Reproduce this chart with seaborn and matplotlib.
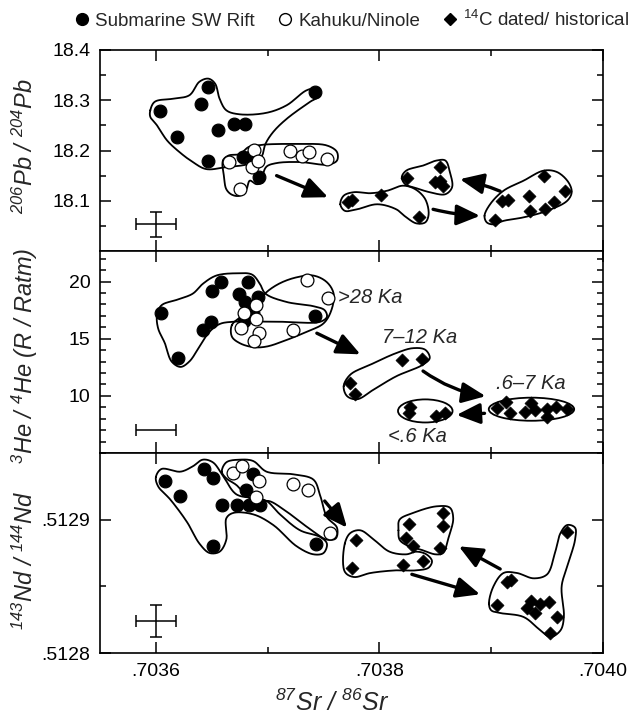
import numpy as np
import pandas as pd
import seaborn as sns
import matplotlib
matplotlib.use("Agg")
import matplotlib.pyplot as plt
from matplotlib.ticker import FixedLocator, FixedFormatter
from matplotlib.patches import Ellipse
from matplotlib.lines import Line2D
from matplotlib import font_manager

# ---------------------------------------------------------------- data
# 206Pb/204Pb panel
pb_sw_sr = [0.703604, 0.703619, 0.703640, 0.703647, 0.703656, 0.703647,
            0.703670, 0.703680, 0.703678, 0.703684, 0.703692, 0.703742]
pb_sw = [18.278, 18.227, 18.292, 18.327, 18.241, 18.180,
         18.252, 18.252, 18.188, 18.188, 18.148, 18.317]
pb_kn_sr = [0.703665, 0.703675, 0.703688, 0.703686, 0.703691,
            0.703720, 0.703731, 0.703737, 0.703753]
pb_kn = [18.177, 18.123, 18.201, 18.168, 18.180, 18.200, 18.190, 18.198, 18.183]
pb_c14_sr = [0.703772, 0.703775, 0.703801, 0.703835, 0.703825, 0.703854,
             0.703854, 0.703857, 0.703850, 0.703903, 0.703910, 0.703915,
             0.703934, 0.703935, 0.703948, 0.703947, 0.703956, 0.703966]
pb_c14 = [18.097, 18.101, 18.111, 18.068, 18.145, 18.167, 18.140, 18.130, 18.137,
          18.061, 18.100, 18.101, 18.110, 18.080, 18.083, 18.150, 18.098, 18.119]

# 3He/4He panel
he_sw_sr = [0.703605, 0.703620, 0.703642, 0.703649, 0.703650, 0.703658, 0.703682,
            0.703674, 0.703680, 0.703691, 0.703687, 0.703679, 0.703742]
he_sw = [17.22, 13.34, 15.80, 16.44, 19.13, 20.00, 20.00,
         18.90, 18.17, 18.67, 17.22, 16.58, 16.96]
he_kn_sr = [0.703735, 0.703754, 0.703690, 0.703679, 0.703690,
            0.703676, 0.703692, 0.703688, 0.703723]
he_kn = [20.12, 18.52, 17.95, 17.22, 16.73, 15.95, 15.48, 14.78, 15.80]
he_c14_sr = [0.703774, 0.703778, 0.703820, 0.703838,
             0.703913, 0.703905, 0.703917, 0.703930, 0.703936, 0.703939,
             0.703950, 0.703950, 0.703958, 0.703968,
             0.703827, 0.703826, 0.703851, 0.703859]
he_c14 = [11.08, 10.20, 13.17, 13.25,
          9.48, 8.90, 8.47, 8.56, 9.34, 8.76, 8.82, 8.17, 9.04, 8.82,
          9.04, 8.47, 8.23, 8.47]

# 143Nd/144Nd panel
nd_sw_sr = [0.703608, 0.703622, 0.703643, 0.703651, 0.703659, 0.703651,
            0.703687, 0.703681, 0.703673, 0.703683, 0.703693, 0.703743]
nd_sw = [0.512929, 0.5129175, 0.512938, 0.512931, 0.512911, 0.512880,
         0.512934, 0.512922, 0.512911, 0.512911, 0.512911, 0.512882]
nd_kn_sr = [0.703669, 0.703677, 0.703692, 0.703690, 0.703723, 0.703736, 0.703756]
nd_kn = [0.512935, 0.512940, 0.512929, 0.512917, 0.512927, 0.512922, 0.512890]
nd_c14_sr = [0.703779, 0.703775, 0.703821, 0.703839, 0.703826, 0.703824, 0.703830,
             0.703857, 0.703857, 0.703854, 0.703968, 0.703914, 0.703918,
             0.703905, 0.703936, 0.703932, 0.703939, 0.703944, 0.703952,
             0.703959, 0.703953]
nd_c14 = [0.512885, 0.512864, 0.512866, 0.512869, 0.512897, 0.512886, 0.512880,
          0.512905, 0.512895, 0.512879, 0.512891, 0.512853, 0.512855,
          0.512836, 0.512839, 0.512834, 0.512830, 0.512837, 0.512838,
          0.512827, 0.512815]

# analytical uncertainty (2 sigma) crosses
err_sr = 0.000018
err_pb = 0.025
err_nd = 0.000012

# axis ticks
sr_major = [0.7036, 0.7038, 0.7040]
sr_major_labels = [".7036", ".7038", ".7040"]
sr_minor = [0.7037, 0.7039]
pb_major = [18.1, 18.2, 18.3, 18.4]
pb_major_labels = ["18.1", "18.2", "18.3", "18.4"]
pb_minor = [18.05, 18.15, 18.25, 18.35]
he_major = [10, 15, 20]
he_major_labels = ["10", "15", "20"]
he_minor = [6, 7, 8, 9, 11, 12, 13, 14, 16, 17, 18, 19, 21, 22]
nd_major = [0.5128, 0.5129]
nd_major_labels = [".5128", ".5129"]
nd_minor = [0.51285, 0.51295]

# group outlines (Sr, ratio) vertices
pb_sw_hull_sr = [0.703595, 0.703599, 0.703615, 0.703630, 0.703639, 0.703647, 0.703653,
                 0.703657, 0.703663, 0.703675, 0.703699, 0.703717, 0.703735, 0.703744,
                 0.703747, 0.703738, 0.703717, 0.703705, 0.703698, 0.703695, 0.703690,
                 0.703681, 0.703663, 0.703645, 0.703633, 0.703621, 0.703610, 0.703601,
                 0.703595]
pb_sw_hull = [18.280, 18.297, 18.303, 18.310, 18.337, 18.343, 18.333, 18.303, 18.280,
              18.272, 18.275, 18.290, 18.320, 18.323, 18.310, 18.297, 18.263, 18.237,
              18.213, 18.190, 18.180, 18.172, 18.167, 18.163, 18.177, 18.197, 18.220,
              18.250, 18.267]
pb_kn_hull_sr = [0.703660, 0.703665, 0.703675, 0.703683, 0.703690, 0.703698, 0.703726,
                 0.703753, 0.703762, 0.703762, 0.703754, 0.703729, 0.703708, 0.703699,
                 0.703696, 0.703696, 0.703690, 0.703684, 0.703681, 0.703675, 0.703668,
                 0.703663, 0.703661]
pb_kn_hull = [18.180, 18.190, 18.193, 18.207, 18.210, 18.212, 18.213, 18.210, 18.197,
              18.180, 18.172, 18.177, 18.175, 18.168, 18.153, 18.137, 18.133, 18.140,
              18.123, 18.110, 18.112, 18.123, 18.147]
pb_c14a_hull_sr = [0.703765, 0.703768, 0.703777, 0.703792, 0.703807, 0.703821, 0.703832,
                   0.703841, 0.703844, 0.703841, 0.703833, 0.703824, 0.703815, 0.703798,
                   0.703780, 0.703769]
pb_c14a_hull = [18.093, 18.110, 18.117, 18.115, 18.120, 18.130, 18.123, 18.103, 18.073,
                18.057, 18.055, 18.067, 18.083, 18.093, 18.083, 18.080]
pb_c14b_hull_sr = [0.703820, 0.703824, 0.703839, 0.703851, 0.703859, 0.703863, 0.703865,
                   0.703859, 0.703845, 0.703833, 0.703823]
pb_c14b_hull = [18.147, 18.160, 18.170, 18.180, 18.180, 18.157, 18.127, 18.113, 18.117,
                18.125, 18.133]
pb_c14c_hull_sr = [0.703894, 0.703899, 0.703911, 0.703929, 0.703947, 0.703959, 0.703969,
                   0.703972, 0.703968, 0.703950, 0.703929, 0.703911, 0.703902, 0.703896]
pb_c14c_hull = [18.070, 18.093, 18.120, 18.140, 18.160, 18.157, 18.137, 18.117, 18.100,
                18.080, 18.067, 18.060, 18.053, 18.057]

he_sw_hull_sr = [0.703601, 0.703605, 0.703619, 0.703633, 0.703642, 0.703654, 0.703672,
                 0.703686, 0.703693, 0.703698, 0.703717, 0.703741, 0.703751, 0.703753,
                 0.703747, 0.703711, 0.703669, 0.703657, 0.703648, 0.703639, 0.703630,
                 0.703622, 0.703614, 0.703608, 0.703602]
he_sw_hull = [17.06, 17.92, 18.41, 18.94, 19.80, 20.52, 20.72, 20.61, 19.80, 18.94,
              18.21, 17.84, 17.49, 16.91, 16.48, 16.48, 16.48, 16.28, 15.61, 14.31,
              13.01, 12.53, 13.01, 14.61, 15.90]
he_kn_hull_sr = [0.703668, 0.703678, 0.703693, 0.703699, 0.703711, 0.703726, 0.703741,
                 0.703753, 0.703759, 0.703757, 0.703750, 0.703735, 0.703717, 0.703699,
                 0.703687, 0.703675, 0.703668]
he_kn_hull = [16.19, 17.06, 18.35, 19.07, 19.85, 20.37, 20.52, 19.94, 18.94, 17.49,
              16.34, 15.61, 14.89, 14.31, 14.26, 14.61, 15.18]
he_c14a_hull_sr = [0.703768, 0.703774, 0.703792, 0.703815, 0.703830, 0.703841, 0.703845,
                   0.703839, 0.703815, 0.703795, 0.703780, 0.703771]
he_c14a_hull = [10.85, 11.86, 12.73, 13.74, 14.17, 14.03, 13.31, 12.73, 11.71, 10.56,
                9.70, 9.98]

nd_sw_hull_sr = [0.703600, 0.703605, 0.703622, 0.703633, 0.703642, 0.703651, 0.703660,
                 0.703672, 0.703690, 0.703699, 0.703711, 0.703729, 0.703747, 0.703753,
                 0.703750, 0.703741, 0.703726, 0.703705, 0.703687, 0.703669, 0.703663,
                 0.703663, 0.703657, 0.703648, 0.703639, 0.703628, 0.703613, 0.703602]
nd_sw_hull = [0.512932, 0.512938, 0.512936, 0.512940, 0.512945, 0.512943, 0.512933,
              0.512919, 0.512916, 0.512914, 0.512904, 0.512892, 0.512887, 0.512882,
              0.512875, 0.512874, 0.512880, 0.512896, 0.512904, 0.512905, 0.512901,
              0.512885, 0.512876, 0.512875, 0.512882, 0.512898, 0.512915, 0.512925]
nd_kn_hull_sr = [0.703659, 0.703663, 0.703675, 0.703687, 0.703699, 0.703723, 0.703741,
                 0.703747, 0.703753, 0.703762, 0.703761, 0.703753, 0.703741, 0.703717,
                 0.703701, 0.703693, 0.703684, 0.703672, 0.703663]
nd_kn_hull = [0.512936, 0.512943, 0.512945, 0.512944, 0.512936, 0.512934, 0.512930,
              0.512918, 0.512902, 0.512894, 0.512886, 0.512885, 0.512891, 0.512906,
              0.512914, 0.512913, 0.512916, 0.512926, 0.512931]
nd_c14a_hull_sr = [0.703769, 0.703774, 0.703783, 0.703795, 0.703809, 0.703824, 0.703833,
                   0.703842, 0.703847, 0.703844, 0.703833, 0.703815, 0.703792, 0.703777,
                   0.703769]
nd_c14a_hull = [0.512882, 0.512890, 0.512892, 0.512885, 0.512876, 0.512874, 0.512876,
                0.512874, 0.512869, 0.512864, 0.512862, 0.512862, 0.512860, 0.512857,
                0.512861]
nd_c14b_hull_sr = [0.703817, 0.703818, 0.703830, 0.703851, 0.703863, 0.703866, 0.703862,
                   0.703857, 0.703850, 0.703839, 0.703824, 0.703818]
nd_c14b_hull = [0.512892, 0.512900, 0.512905, 0.512910, 0.512909, 0.512901, 0.512887,
                0.512875, 0.512874, 0.512877, 0.512881, 0.512885]
nd_c14c_hull_sr = [0.703898, 0.703902, 0.703911, 0.703923, 0.703938, 0.703950, 0.703957,
                   0.703962, 0.703968, 0.703975, 0.703975, 0.703968, 0.703963, 0.703965,
                   0.703962, 0.703953, 0.703944, 0.703929, 0.703908, 0.703900]
nd_c14c_hull = [0.512837, 0.512850, 0.512860, 0.512860, 0.512856, 0.512859, 0.512875,
                0.512890, 0.512896, 0.512894, 0.512885, 0.512865, 0.512850, 0.512827,
                0.512817, 0.512812, 0.512817, 0.512827, 0.512830, 0.512832]

# age-group ellipses in the He panel: (Sr centre, He centre, Sr half-width, He half-height)
he_young_ellipse = (0.703936, 8.83, 0.0000382, 1.01)
he_recent_ellipse = (0.703841, 8.68, 0.0000244, 1.01)

# age labels in the He panel
age_labels = [">28 Ka", "7\u201312 Ka", ".6\u20137 Ka", "<.6 Ka"]
age_label_sr = [0.703763, 0.703802, 0.703904, 0.703808]
age_label_he = [18.12, 14.66, 10.62, 5.95]

# evolution arrows: (start Sr, start ratio, end Sr, end ratio, curvature)
pb_arrows = [(0.703708, 18.150, 0.703754, 18.107, 0.0),
             (0.703848, 18.083, 0.703890, 18.070, 0.05),
             (0.703908, 18.119, 0.703872, 18.143, 0.05)]
he_arrows = [(0.703744, 15.48, 0.703783, 13.63, 0.0),
             (0.703839, 12.17, 0.703895, 9.97, 0.12),
             (0.703894, 8.47, 0.703869, 8.33, 0.0)]
nd_arrows = [(0.703751, 0.512914, 0.703771, 0.512894, 0.0),
             (0.703829, 0.512859, 0.703890, 0.512844, 0.0),
             (0.703908, 0.512863, 0.703871, 0.512880, 0.0)]

legend_labels = ["Submarine SW Rift", "Kahuku/Ninole", "$^{14}$C dated/ historical"]

# ---------------------------------------------------------------- style
sns.set_style("ticks")
plt.rcParams["font.family"] = ["Liberation Sans", "DejaVu Sans"]
plt.rcParams["mathtext.default"] = "regular"
plt.rcParams["axes.linewidth"] = 1.2

_names = {f.name for f in font_manager.fontManager.ttflist}
legend_family = "Liberation Sans Narrow" if "Liberation Sans Narrow" in _names else "Liberation Sans"

W, H = 629, 720
fig = plt.figure(figsize=(W / 100, H / 100), dpi=100)

left, width = 100 / W, 503 / W
ax_pb = fig.add_axes([left, 1 - 251 / H, width, 201 / H])
ax_he = fig.add_axes([left, 1 - 453 / H, width, 202 / H])
ax_nd = fig.add_axes([left, 1 - 653 / H, width, 200 / H])

SR_LIM = (0.70355, 0.70400)


def scatter_groups(ax, sw, kn, c14):
    df = pd.concat([
        pd.DataFrame({"sr": sw[0], "v": sw[1], "g": "sw"}),
        pd.DataFrame({"sr": kn[0], "v": kn[1], "g": "kn"}),
        pd.DataFrame({"sr": c14[0], "v": c14[1], "g": "c14"}),
    ])
    sns.scatterplot(data=df[df.g == "sw"], x="sr", y="v", ax=ax, marker="o", s=85,
                    color="black", edgecolor="black", linewidth=0.8, zorder=4, legend=False)
    sns.scatterplot(data=df[df.g == "kn"], x="sr", y="v", ax=ax, marker="o", s=85,
                    color="white", edgecolor="black", linewidth=0.9, zorder=5, legend=False)
    sns.scatterplot(data=df[df.g == "c14"], x="sr", y="v", ax=ax, marker="D", s=44,
                    color="black", edgecolor="black", linewidth=0.5, zorder=4, legend=False)


def smooth_outline(ax, xs, ys, pts_per_seg=16):
    """Closed centripetal Catmull-Rom curve through the vertices."""
    x0, x1 = ax.get_xlim()
    y0, y1 = ax.get_ylim()
    bb = ax.get_position()
    sx, sy = bb.width * W, bb.height * H
    P = np.column_stack([(np.asarray(xs) - x0) / (x1 - x0) * sx,
                         (np.asarray(ys) - y0) / (y1 - y0) * sy])
    n = len(P)
    out = []
    for i in range(n):
        p0, p1, p2, p3 = P[(i - 1) % n], P[i], P[(i + 1) % n], P[(i + 2) % n]
        t0 = 0.0
        t1 = t0 + np.linalg.norm(p1 - p0) ** 0.5 + 1e-9
        t2 = t1 + np.linalg.norm(p2 - p1) ** 0.5 + 1e-9
        t3 = t2 + np.linalg.norm(p3 - p2) ** 0.5 + 1e-9
        for t in np.linspace(t1, t2, pts_per_seg, endpoint=False):
            a1 = (t1 - t) / (t1 - t0) * p0 + (t - t0) / (t1 - t0) * p1
            a2 = (t2 - t) / (t2 - t1) * p1 + (t - t1) / (t2 - t1) * p2
            a3 = (t3 - t) / (t3 - t2) * p2 + (t - t2) / (t3 - t2) * p3
            b1 = (t2 - t) / (t2 - t0) * a1 + (t - t0) / (t2 - t0) * a2
            b2 = (t3 - t) / (t3 - t1) * a2 + (t - t1) / (t3 - t1) * a3
            out.append((t2 - t) / (t2 - t1) * b1 + (t - t1) / (t2 - t1) * b2)
    out.append(out[0])
    out = np.array(out)
    ax.plot(x0 + out[:, 0] / sx * (x1 - x0), y0 + out[:, 1] / sy * (y1 - y0),
            color="black", lw=1.3, zorder=3, solid_joinstyle="round")


def draw_arrows(ax, arrows):
    for xs, ys, xe, ye, rad in arrows:
        ax.annotate("", xy=(xe, ye), xytext=(xs, ys), zorder=6,
                    arrowprops=dict(arrowstyle="-|>,head_length=0.75,head_width=0.33",
                                    mutation_scale=19, lw=2.4, color="black",
                                    shrinkA=0, shrinkB=0,
                                    connectionstyle=f"arc3,rad={rad}"))


def style_axis(ax, ylim, ymaj, ymaj_lab, ymin, show_x):
    ax.set_xlim(*SR_LIM)
    ax.set_ylim(*ylim)
    ax.xaxis.set_major_locator(FixedLocator(sr_major))
    ax.xaxis.set_major_formatter(FixedFormatter(sr_major_labels))
    ax.xaxis.set_minor_locator(FixedLocator(sr_minor))
    ax.yaxis.set_major_locator(FixedLocator(ymaj))
    ax.yaxis.set_major_formatter(FixedFormatter(ymaj_lab))
    ax.yaxis.set_minor_locator(FixedLocator(ymin))
    ax.tick_params(which="both", direction="in", top=True, right=True,
                   width=1.1, labelsize=14, pad=7, colors="black")
    ax.tick_params(which="major", length=8)
    ax.tick_params(which="minor", length=4.5)
    ax.tick_params(axis="x", labelbottom=show_x)
    ax.set_xlabel("")
    ax.set_ylabel("")
    for s in ax.spines.values():
        s.set_color("black")


# ---------------------------------------------------------------- Pb panel
style_axis(ax_pb, (18.0, 18.4), pb_major, pb_major_labels, pb_minor, False)
scatter_groups(ax_pb, (pb_sw_sr, pb_sw), (pb_kn_sr, pb_kn), (pb_c14_sr, pb_c14))
style_axis(ax_pb, (18.0, 18.4), pb_major, pb_major_labels, pb_minor, False)
for hx, hy in [(pb_sw_hull_sr, pb_sw_hull), (pb_kn_hull_sr, pb_kn_hull),
               (pb_c14a_hull_sr, pb_c14a_hull), (pb_c14b_hull_sr, pb_c14b_hull),
               (pb_c14c_hull_sr, pb_c14c_hull)]:
    smooth_outline(ax_pb, hx, hy)
draw_arrows(ax_pb, pb_arrows)
ax_pb.errorbar([sr_major[0]], [18.053], xerr=err_sr, yerr=err_pb, fmt="none",
               ecolor="black", elinewidth=1.1, capsize=4.5, capthick=1.1)

# ---------------------------------------------------------------- He panel
style_axis(ax_he, (5.0, 22.67), he_major, he_major_labels, he_minor, False)
scatter_groups(ax_he, (he_sw_sr, he_sw), (he_kn_sr, he_kn), (he_c14_sr, he_c14))
style_axis(ax_he, (5.0, 22.67), he_major, he_major_labels, he_minor, False)
for hx, hy in [(he_sw_hull_sr, he_sw_hull), (he_kn_hull_sr, he_kn_hull),
               (he_c14a_hull_sr, he_c14a_hull)]:
    smooth_outline(ax_he, hx, hy)
for cx, cy, hw, hh in [he_young_ellipse, he_recent_ellipse]:
    ax_he.add_patch(Ellipse((cx, cy), 2 * hw, 2 * hh, fill=False, ec="black",
                            lw=1.3, zorder=3))
draw_arrows(ax_he, he_arrows)
ax_he.errorbar([sr_major[0]], [7.0], xerr=err_sr, fmt="none",
               ecolor="black", elinewidth=1.1, capsize=4.5, capthick=1.1)
for lab, lx, ly in zip(age_labels, age_label_sr, age_label_he):
    ax_he.text(lx, ly, lab, fontsize=14.5, fontstyle="italic", ha="left",
               va="baseline", zorder=7)

# ---------------------------------------------------------------- Nd panel
style_axis(ax_nd, (0.5128, 0.51295), nd_major, nd_major_labels, nd_minor, True)
scatter_groups(ax_nd, (nd_sw_sr, nd_sw), (nd_kn_sr, nd_kn), (nd_c14_sr, nd_c14))
style_axis(ax_nd, (0.5128, 0.51295), nd_major, nd_major_labels, nd_minor, True)
for hx, hy in [(nd_sw_hull_sr, nd_sw_hull), (nd_kn_hull_sr, nd_kn_hull),
               (nd_c14a_hull_sr, nd_c14a_hull), (nd_c14b_hull_sr, nd_c14b_hull),
               (nd_c14c_hull_sr, nd_c14c_hull)]:
    smooth_outline(ax_nd, hx, hy)
draw_arrows(ax_nd, nd_arrows)
ax_nd.errorbar([sr_major[0]], [0.512824], xerr=err_sr, yerr=err_nd, fmt="none",
               ecolor="black", elinewidth=1.1, capsize=4.5, capthick=1.1)

# ---------------------------------------------------------------- labels
lab_kw = dict(fontsize=17, fontstyle="italic", rotation=90, ha="center", va="center")
fig.text(25 / W, 1 - 146 / H, "$^{206}$Pb / $^{204}$Pb", **lab_kw)
fig.text(25 / W, 1 - 356 / H, "$^{3}$He / $^{4}$He (R / Ratm)", **lab_kw)
fig.text(25 / W, 1 - 560 / H, "$^{143}$Nd / $^{144}$Nd", **lab_kw)
fig.text(332 / W, 1 - 703 / H, "$^{87}$Sr / $^{86}$Sr", fontsize=18,
         fontstyle="italic", ha="center", va="center")

handles = [
    Line2D([], [], ls="none", marker="o", ms=8.5, mfc="black", mec="black"),
    Line2D([], [], ls="none", marker="o", ms=8.5, mfc="white", mec="black", mew=1),
    Line2D([], [], ls="none", marker="D", ms=6, mfc="black", mec="black"),
]
fig.legend(handles, legend_labels, loc="center", bbox_to_anchor=(352 / W, 1 - 20 / H),
           ncol=3, frameon=False, handlelength=0.8, handletextpad=0.3,
           columnspacing=1.2, borderaxespad=0,
           prop=dict(family=legend_family, size=13.5))

fig.savefig("out.png", dpi=100)
